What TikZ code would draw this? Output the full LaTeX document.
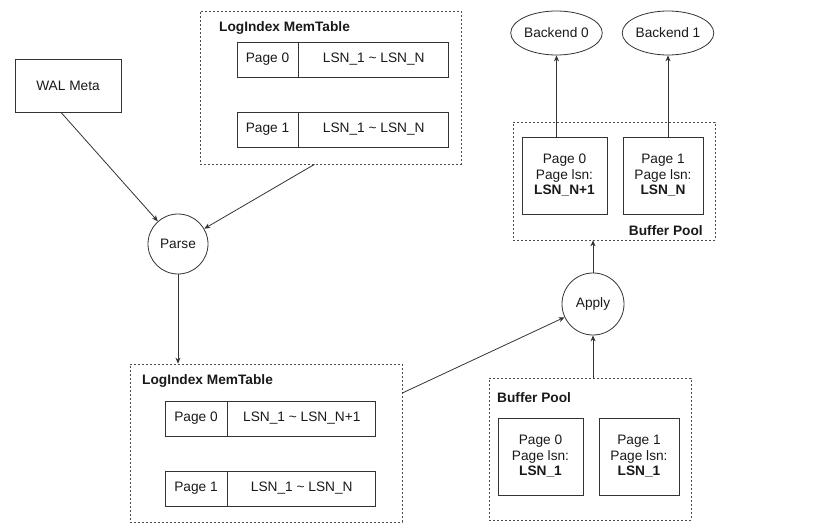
\documentclass[tikz,border=0pt]{standalone}
\usepackage{fontspec}
\setmainfont{Liberation Sans}
\usetikzlibrary{arrows.meta,shapes.geometric}
\newcommand{\figfont}{\fontsize{13.7}{15.5}\selectfont}

\begin{document}
\begin{tikzpicture}[x=1pt,y=-1pt,
  every node/.style={font=\figfont,text=black!90},
  line/.style={draw=black!80,line width=0.8pt},
  group/.style={draw=black!70,line width=0.7pt,dash pattern=on 2pt off 2pt,inner sep=0pt},
  cell/.style={line,minimum height=35pt,inner sep=0pt},
  pagebox/.style={line,minimum height=77pt,align=center,inner sep=0pt},
  proc/.style={line,circle,inner sep=0pt},
  flow/.style={draw=black!80,line width=0.8pt,-{Stealth[length=6pt,width=5pt]}},
  title/.style={font=\figfont\bfseries,anchor=west,inner sep=0pt}]
\useasboundingbox (0,0) rectangle (828,532);
\node[line,minimum width=106pt,minimum height=53pt] (wal) at (68,85.5) {WAL Meta};
% LogIndex before parsing
\node[group,minimum width=261pt,minimum height=153pt] (mem1) at (330.5,87.5) {};
\node[title] (mem1t) at (219,28) {LogIndex MemTable};
\foreach \i/\y in {0/59.5,1/129.5} {
  \node[cell,minimum width=61pt] (mem1p\i) at (267.5,\y) {Page \i};
  \node[cell,minimum width=150pt,anchor=west] (mem1l\i) at (mem1p\i.east) {LSN\_1 \textasciitilde{} LSN\_N};
}
\node[proc,minimum size=60pt] (parse) at (178,244) {Parse};
% LogIndex after parsing
\node[group,minimum width=272pt,minimum height=158pt] (mem2) at (266,443) {};
\node[title] (mem2t) at (142,381) {LogIndex MemTable};
\foreach \i/\y/\last in {0/418.5/N+1,1/488.5/N} {
  \node[cell,minimum width=62pt] (mem2p\i) at (196,\y) {Page \i};
  \node[cell,minimum width=148pt,anchor=west] (mem2l\i) at (mem2p\i.east) {LSN\_1 \textasciitilde{} LSN\_\last};
}
\node[proc,minimum size=62pt] (apply) at (593,304) {Apply};
% buffer pool, old pages
\node[group,minimum width=202pt,minimum height=142pt] (bp2) at (590,449) {};
\node[title] (bp2t) at (497,398) {Buffer Pool};
\node[pagebox,minimum width=85pt] (bp2p0) at (540.5,456.5) {Page 0\\Page lsn:\\\textbf{LSN\_1}};
\node[pagebox,minimum width=80pt] (bp2p1) at (639,456.5) {Page 1\\Page lsn:\\\textbf{LSN\_1}};
% buffer pool, replayed pages
\node[group,minimum width=202pt,minimum height=118pt] (bp1) at (614,181) {};
\node[title,anchor=east] (bp1t) at (703,231) {Buffer Pool};
\node[pagebox,minimum width=85pt] (bp1p0) at (564.5,175.5) {Page 0\\Page lsn:\\\textbf{LSN\_N+1}};
\node[pagebox,minimum width=80pt] (bp1p1) at (663,175.5) {Page 1\\Page lsn:\\\textbf{LSN\_N}};
\node[line,ellipse,minimum width=89pt,minimum height=44pt,inner sep=0pt] (back0) at (556.5,33) {Backend 0};
\node[line,ellipse,minimum width=89pt,minimum height=44pt,inner sep=0pt] (back1) at (668,33) {Backend 1};
% arrows
\draw[flow] ([xshift=-7pt]wal.south) -- (parse);
\draw[flow] ([xshift=-16pt]mem1.south) -- (parse);
\draw[flow] (parse) -- (parse |- mem2.north);
\draw[flow] ([yshift=50pt]mem2.east) -- (apply);
\draw[flow] (apply.south |- bp2.north) -- (apply);
\draw[flow] (apply) -- (apply |- bp1.south);
\draw[flow] (back0 |- bp1p0.north) -- (back0);
\draw[flow] (back1 |- bp1p1.north) -- (back1);
\end{tikzpicture}
\end{document}
